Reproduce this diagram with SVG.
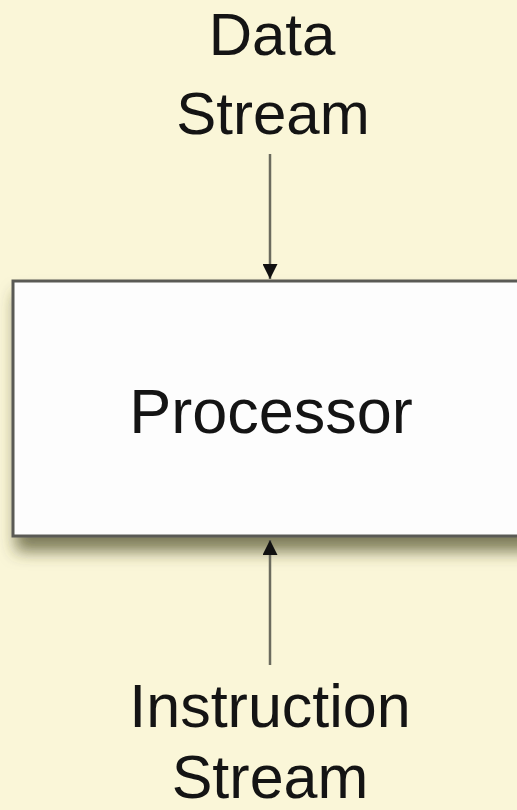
<svg xmlns="http://www.w3.org/2000/svg" width="517" height="810" viewBox="0 0 517 810">
<defs>
<style>
.t{font-family:"Liberation Sans",Arial,sans-serif;fill:#141414;text-anchor:middle}
.c{stroke:#6b6b5e;stroke-width:2.5;fill:none}
</style>
<filter id="sh" x="-10%" y="-10%" width="130%" height="140%">
<feDropShadow dx="4" dy="14" stdDeviation="8" flood-color="#4a4a20" flood-opacity="0.7"/>
</filter>
<marker id="ah" viewBox="0 0 10 10" refX="10" refY="5" markerWidth="6.5" markerHeight="6" orient="auto" markerUnits="strokeWidth">
<path d="M0,0 L10,5 L0,10 Z" fill="#111"/>
</marker>
</defs>
<rect width="517" height="810" fill="#FAF6D8"/>
<g id="processor">
<rect x="13" y="281" width="520" height="255" fill="#FDFDFD" stroke="#5a5a55" stroke-width="3" filter="url(#sh)"/>
<text class="t" x="271" y="433" font-size="63">Processor</text>
</g>
<g id="data-stream">
<text class="t" x="272" y="55" font-size="60">Data</text>
<text class="t" x="273" y="134" font-size="60">Stream</text>
</g>
<g id="instruction-stream">
<text class="t" x="270" y="727" font-size="61">Instruction</text>
<text class="t" x="270" y="798" font-size="61">Stream</text>
</g>
<g id="connectors">
<line class="c" x1="270" y1="154" x2="270" y2="279" marker-end="url(#ah)"/>
<line class="c" x1="270" y1="665" x2="270" y2="540" marker-end="url(#ah)"/>
</g>
</svg>
